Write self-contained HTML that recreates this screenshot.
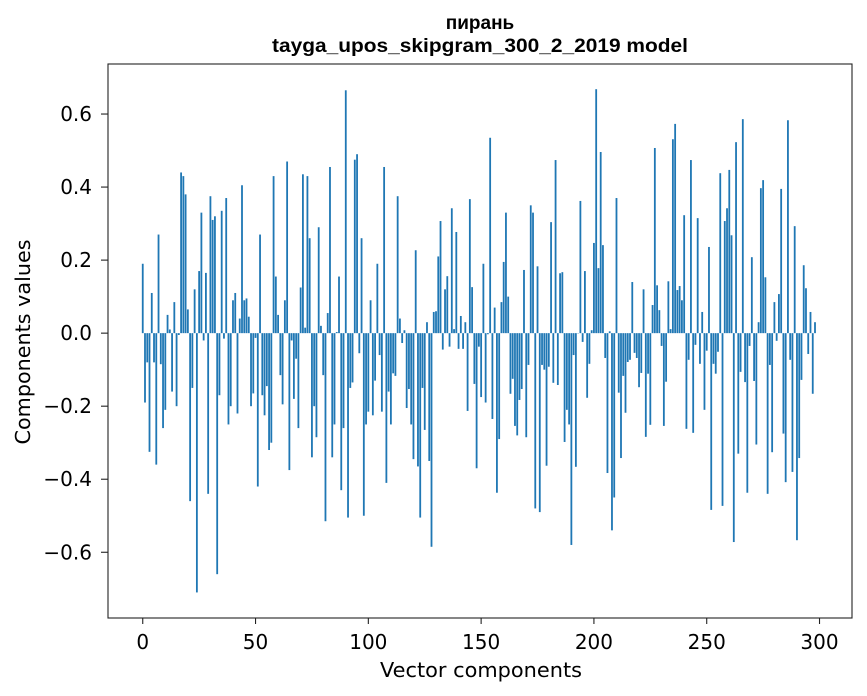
<!DOCTYPE html>
<html><head><meta charset="utf-8">
<style>
html,body{margin:0;padding:0;background:#fff;}
svg{display:block;}
</style></head>
<body>
<svg id="chart" width="867" height="696" viewBox="0 0 867 696" xmlns="http://www.w3.org/2000/svg">
  <rect x="0" y="0" width="867" height="696" fill="#fff"/>
  <text x="480" y="29" text-anchor="middle" font-family="Liberation Sans, DejaVu Sans, sans-serif" font-weight="bold" font-size="19">пирань</text>
  <text x="480" y="52" text-anchor="middle" font-family="Liberation Sans, sans-serif" font-weight="bold" font-size="19" textLength="416" lengthAdjust="spacingAndGlyphs">tayga_upos_skipgram_300_2_2019 model</text>
  <g id="bars"></g>
  <g id="axes"></g>
  <text x="481" y="677" text-anchor="middle" font-family="DejaVu Sans, sans-serif" font-size="20.5" textLength="202" lengthAdjust="spacingAndGlyphs">Vector components</text>
  <text x="0" y="0" transform="translate(30,342) rotate(-90)" text-anchor="middle" font-family="DejaVu Sans, sans-serif" font-size="20.5" textLength="205" lengthAdjust="spacingAndGlyphs">Components values</text>
</svg>
<script>
const values = [
0.19,-0.19,-0.08,-0.325,0.11,-0.08,-0.36,0.27,-0.085,-0.26,
-0.21,0.05,0.01,-0.16,0.085,-0.2,-0.005,0.44,0.43,0.38,
0.065,-0.46,-0.15,0.12,-0.71,0.17,0.33,-0.02,0.165,-0.44,
0.375,0.31,0.32,-0.66,-0.17,0.335,-0.015,0.37,-0.25,-0.2,
0.09,0.11,-0.22,0.04,0.405,0.09,0.095,0.045,-0.2,-0.165,
-0.013,-0.42,0.27,-0.17,-0.225,-0.145,-0.32,-0.30,0.43,0.155,
0.05,-0.115,-0.195,0.09,0.47,-0.375,-0.02,-0.18,-0.07,-0.26,
0.125,0.435,0.015,0.43,0.26,-0.34,-0.2,-0.285,0.29,0.02,
-0.115,-0.515,0.055,0.455,-0.34,-0.25,0.003,0.155,-0.43,-0.26,
0.665,-0.505,-0.15,-0.135,0.475,0.49,-0.055,0.26,-0.5,-0.25,
-0.215,0.09,-0.225,-0.13,0.19,-0.06,-0.215,0.455,-0.41,-0.16,
-0.25,-0.11,-0.117,0.375,0.04,-0.027,0.008,-0.205,-0.153,-0.25,
-0.345,0.227,-0.365,-0.505,-0.15,-0.265,0.03,-0.35,-0.585,0.058,
0.06,0.21,0.307,-0.045,0.12,0.156,-0.037,0.342,0.011,0.277,
-0.043,0.047,-0.043,0.03,-0.213,0.367,0.126,-0.139,-0.37,-0.037,
-0.175,0.19,-0.19,-0.003,0.535,-0.235,0.07,-0.437,-0.29,0.085,
0.195,0.33,0.1,-0.166,-0.125,-0.254,-0.28,-0.183,-0.153,0.173,
-0.285,-0.087,0.35,0.33,-0.48,0.183,-0.49,-0.087,-0.1,-0.363,
-0.092,0.304,-0.136,0.474,-0.142,0.164,0.167,-0.298,-0.21,-0.25,
-0.58,-0.06,-0.366,0.0,0.362,-0.024,0.17,-0.177,-0.084,0.008,
0.247,0.668,0.178,0.496,0.241,-0.068,-0.383,0.005,-0.54,-0.45,
0.37,-0.163,-0.342,-0.117,-0.218,-0.079,-0.073,0.14,-0.054,-0.068,
-0.148,-0.109,0.12,-0.284,-0.111,-0.251,0.077,0.507,0.131,0.063,
-0.035,-0.254,-0.133,0.142,0.011,0.531,0.573,0.118,0.129,0.09,
0.323,-0.262,-0.073,0.474,-0.273,-0.032,0.315,-0.084,0.058,-0.21,
-0.048,0.236,-0.484,-0.084,-0.111,-0.051,0.438,-0.473,0.307,0.342,
0.447,0.268,-0.572,0.523,-0.33,-0.106,0.586,-0.134,-0.437,-0.035,
0.208,-0.131,-0.305,0.03,0.397,0.419,0.153,-0.44,-0.087,-0.326,
0.085,-0.021,0.107,0.395,-0.275,-0.408,0.583,-0.073,-0.38,0.293,
-0.567,-0.342,-0.128,0.186,0.123,-0.057,0.058,-0.166,0.03
];
const xTicks = [0,50,100,150,200,250,300];
const yTicks = [-0.6,-0.4,-0.2,0.0,0.2,0.4,0.6];
const yTickLabels = ["\u22120.6","\u22120.4","\u22120.2","0.0","0.2","0.4","0.6"];

const NS = "http://www.w3.org/2000/svg";
const L = 108, R = 852, T = 64, B = 618;
const xMin = -15.4, xMax = 314.4, yMin = -0.78, yMax = 0.737;
function xs(v){ return L + (v - xMin) / (xMax - xMin) * (R - L); }
function ys(v){ return T + (yMax - v) / (yMax - yMin) * (B - T); }

const barsG = document.getElementById('bars');
const bw = xs(0.8) - xs(0);
values.forEach(function(v, i){
  const r = document.createElementNS(NS, 'rect');
  const y0 = ys(0), y1 = ys(v);
  r.setAttribute('x', xs(i) - bw/2);
  r.setAttribute('y', Math.min(y0, y1));
  r.setAttribute('width', bw);
  r.setAttribute('height', Math.max(Math.abs(y1 - y0), 0.3));
  r.setAttribute('fill', '#1f77b4');
  
  
  barsG.appendChild(r);
});

const axG = document.getElementById('axes');
const frame = document.createElementNS(NS, 'rect');
frame.setAttribute('x', L); frame.setAttribute('y', T);
frame.setAttribute('width', R - L); frame.setAttribute('height', B - T);
frame.setAttribute('fill', 'none'); frame.setAttribute('stroke', '#222'); frame.setAttribute('stroke-width', '1.1');


axG.appendChild(frame);

xTicks.forEach(function(t){
  const x = xs(t);
  const ln = document.createElementNS(NS, 'line');
  ln.setAttribute('x1', x); ln.setAttribute('x2', x);
  ln.setAttribute('y1', B); ln.setAttribute('y2', B + 6);
  ln.setAttribute('stroke', '#222'); ln.setAttribute('stroke-width', '1.1');
  
  
  axG.appendChild(ln);
  const tx = document.createElementNS(NS, 'text');
  tx.setAttribute('x', x); tx.setAttribute('y', 649);
  tx.setAttribute('text-anchor', 'middle');
  tx.setAttribute('font-family', 'DejaVu Sans, sans-serif');
  tx.setAttribute('font-size', '20');
  tx.textContent = String(t);
  
  
  axG.appendChild(tx);
});

yTicks.forEach(function(t, k){
  const y = ys(t);
  const ln = document.createElementNS(NS, 'line');
  ln.setAttribute('x1', L - 7); ln.setAttribute('x2', L);
  ln.setAttribute('y1', y); ln.setAttribute('y2', y);
  ln.setAttribute('stroke', '#222'); ln.setAttribute('stroke-width', '1.1');
  
  
  axG.appendChild(ln);
  const tx = document.createElementNS(NS, 'text');
  tx.setAttribute('x', L - 16); tx.setAttribute('y', y + 7);
  tx.setAttribute('text-anchor', 'end');
  tx.setAttribute('font-family', 'DejaVu Sans, sans-serif');
  tx.setAttribute('font-size', '20');
  tx.textContent = yTickLabels[k];
  
  
  axG.appendChild(tx);
});
</script>
</body></html>
